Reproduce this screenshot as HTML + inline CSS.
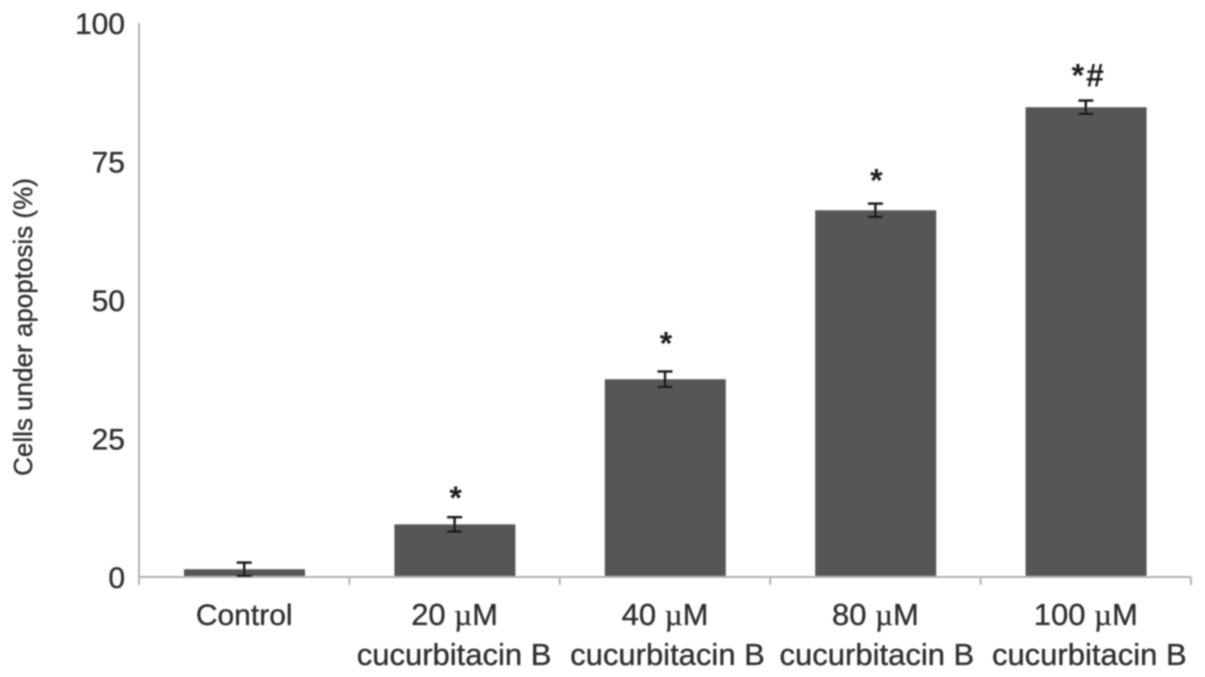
<!DOCTYPE html>
<html><head><meta charset="utf-8"><title>Cells under apoptosis</title>
<style>
html,body{margin:0;padding:0;background:#fff;width:1205px;height:677px;overflow:hidden}
svg{display:block}
text{font-family:"Liberation Sans",sans-serif;fill:#2f2f2f;stroke:#2f2f2f;stroke-width:0.35px}
</style></head>
<body>
<svg id="chart" width="1205" height="677" viewBox="0 0 1205 677" xmlns="http://www.w3.org/2000/svg">
<defs><filter id="soft" x="-5%" y="-5%" width="110%" height="110%"><feGaussianBlur stdDeviation="0.7"/></filter></defs>
<g id="root" filter="url(#soft)"></g>
</svg>
<script>
const categories = ['Control', '20', '40', '80', '100'];
const values = [1.4, 9.5, 35.7, 66.2, 84.8];
const errors = [1.2, 1.3, 1.4, 1.2, 1.2];
const marks = ['', '*', '*', '*', '*#'];
const yTicks = [0, 25, 50, 75, 100];

const NS = 'http://www.w3.org/2000/svg';
const root = document.getElementById('root');
const plot = { left: 139, right: 1191, top: 23, bottom: 577 };
const yMax = 100;
function yScale(v) { return plot.bottom - (v / yMax) * (plot.bottom - plot.top); }
const band = (plot.right - plot.left) / categories.length;
function xCenter(i) { return plot.left + band * (i + 0.5); }
function make(tag, attrs, text) {
  const el = document.createElementNS(NS, tag);
  for (const k in attrs) el.setAttribute(k, attrs[k]);
  if (text !== undefined) el.textContent = text;
  root.appendChild(el);
  return el;
}
const axisColor = '#b4b4b4';
const barWidth = 121;
const markLift = [0, 8, 17, 12, 14];
const drugNudge = [0, 0, 3, 2, 4];

categories.forEach((c, i) => {
  const top = yScale(values[i]);
  const bar = make('rect', { x: xCenter(i) - barWidth / 2 + 0.3, y: top, width: barWidth, height: plot.bottom - top, fill: '#565656' });
  
  
});

const yAxis = make('line', { x1: plot.left, x2: plot.left, y1: plot.top, y2: plot.bottom + 8, stroke: axisColor, 'stroke-width': 2 });


const xAxis = make('line', { x1: plot.left, x2: plot.right, y1: plot.bottom, y2: plot.bottom, stroke: axisColor, 'stroke-width': 2 });



categories.forEach((c, i) => {
  const tx = plot.left + band * (i + 1);
  const tick = make('line', { x1: tx, x2: tx, y1: plot.bottom, y2: plot.bottom + 8, stroke: axisColor, 'stroke-width': 2 });
  
  
});

yTicks.forEach(t => {
  const label = make('text', { x: 125, y: yScale(t) + 11, 'text-anchor': 'end', 'font-size': 30 }, String(t));
  
  
});

categories.forEach((c, i) => {
  const x = xCenter(i);
  const hi = yScale(values[i] + errors[i]);
  const lo = yScale(values[i] - errors[i]);
  const parts = [[x, hi, x, lo], [x - 7.5, hi, x + 7.5, hi], [x - 7.5, lo, x + 7.5, lo]];
  parts.forEach(p => {
    const seg = make('line', { x1: p[0], y1: p[1], x2: p[2], y2: p[3], stroke: '#141414', 'stroke-width': 2.4 });
    
    
  });
  if (marks[i]) {
    const m = make('text', { x: x + (marks[i].length > 1 ? 3 : 1), y: hi - markLift[i], 'text-anchor': 'middle', 'font-size': 32, 'font-weight': 'bold', 'letter-spacing': marks[i].length > 1 ? 2 : 0, style: 'fill:#1c1c1c;stroke:none' }, marks[i]);
    
    
  }
  if (i === 0) {
    const l = make('text', { x: x, y: 625, 'text-anchor': 'middle', 'font-size': 30 }, c);
    
    
  } else {
    const l = make('text', { x: x, y: 625, 'text-anchor': 'middle', 'font-size': 31 }, c + ' ');
    
    
    const mu = document.createElementNS(NS, 'tspan');
    mu.setAttribute('font-family', '"Liberation Serif", serif');
    mu.textContent = '\u00b5';
    l.appendChild(mu);
    l.appendChild(document.createTextNode('M'));
    const d = make('text', { x: x - 0.5 + drugNudge[i], y: 665, 'text-anchor': 'middle', 'font-size': 31 }, 'cucurbitacin B');
    
    
  }
});

const title = make('text', { transform: 'translate(32,327) rotate(-90)', 'text-anchor': 'middle', 'font-size': 26 }, 'Cells under apoptosis (%)');


</script>
</body></html>
